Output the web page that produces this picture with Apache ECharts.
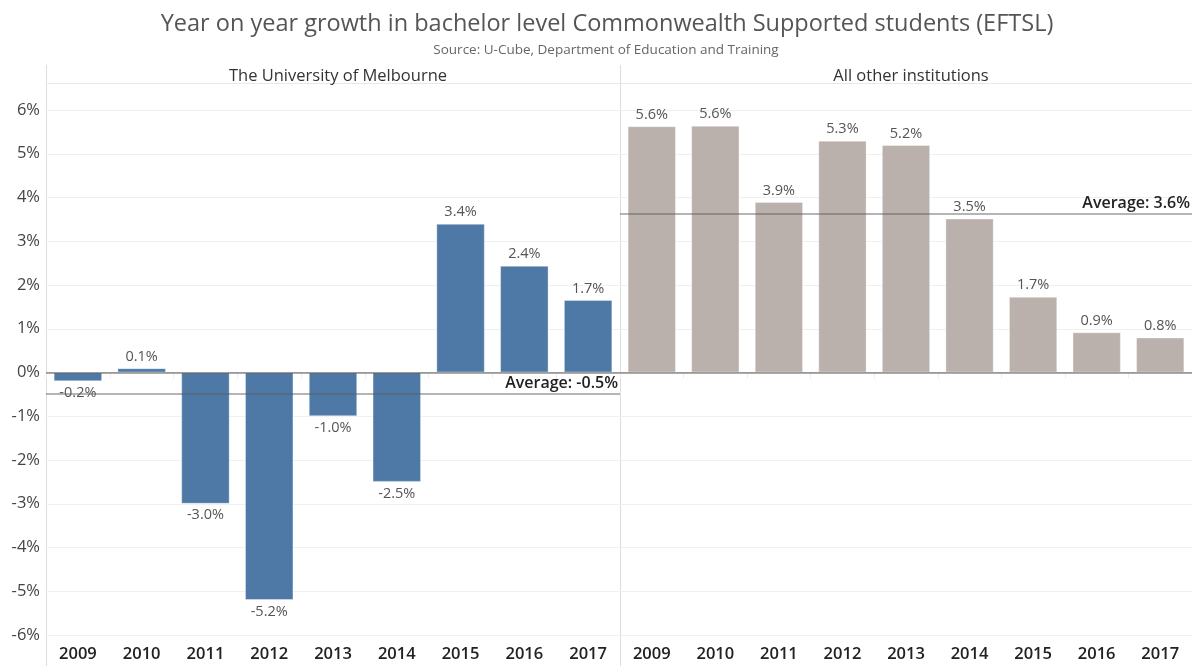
<!DOCTYPE html>
<html>
<head>
<meta charset="utf-8">
<script src="https://cdn.jsdelivr.net/npm/echarts@6/dist/echarts.min.js"></script>
<style>
html,body{margin:0;padding:0;background:#fff;}
#chart{width:1192px;height:666px;}
</style>
</head>
<body>
<div id="chart"></div>
<script>
const years = ['2009','2010','2011','2012','2013','2014','2015','2016','2017'];
const melbourneGrowth = [-0.2, 0.1, -3.0, -5.2, -1.0, -2.5, 3.4, 2.44, 1.66];
const otherGrowth = [5.63, 5.64, 3.9, 5.3, 5.2, 3.52, 1.73, 0.92, 0.8];
const panelTitles = ['The University of Melbourne', 'All other institutions'];
const yTicks = [-6, 6, 1];

const avg = a => a.reduce((s, v) => s + v, 0) / a.length;
const FONT = '"Open Sans", "Noto Sans", sans-serif';
const pct = v => v.toFixed(1) + '%';

function barData(vals) {
  return vals.map(v => ({
    value: v,
    label: { position: v < 0 ? 'bottom' : 'top' }
  }));
}

function series(idx, vals, color) {
  const a = avg(vals);
  return {
    type: 'bar',
    xAxisIndex: idx, yAxisIndex: idx,
    data: barData(vals),
    barWidth: '76%',
    itemStyle: { color: color, borderColor: 'rgba(255,255,255,0.35)', borderWidth: 1 },
    label: {
      show: true, color: '#555', fontSize: 14.5, fontFamily: FONT, distance: 4,
      formatter: p => pct(p.value)
    },
    markLine: {
      silent: true, symbol: 'none', animation: false,
      data: [
        { yAxis: 0, lineStyle: { color: 'rgba(70,70,70,0.6)', width: 1.5, type: 'solid' }, label: { show: false } },
        { yAxis: a, lineStyle: { color: 'rgba(90,90,90,0.45)', width: 2, type: 'solid' },
          label: { show: true, position: 'insideEndTop', formatter: 'Average: ' + pct(a),
                   color: '#222', fontSize: 16, fontFamily: FONT, fontWeight: 600, distance: 2 } }
      ]
    },
    z: 2
  };
}

function xAxis(idx) {
  return {
    type: 'category', gridIndex: idx, data: years, offset: 6,
    axisLine: { show: true, lineStyle: { color: '#ddd', width: 1 } },
    axisTick: { show: true, length: 6, lineStyle: { color: '#eee' } },
    axisLabel: { color: '#222', fontSize: 16.5, fontWeight: 600, fontFamily: FONT, margin: 5 }
  };
}

function yAxis(idx) {
  return {
    type: 'value', gridIndex: idx, min: yTicks[0], max: yTicks[1], interval: yTicks[2],
    axisLine: { show: false }, axisTick: { show: false },
    splitLine: { show: true, lineStyle: { color: '#f0f0f0' } },
    axisLabel: { show: idx === 0, color: '#444', fontSize: 16.5, fontFamily: FONT, margin: 6,
                 formatter: v => v + '%' }
  };
}

const chart = echarts.init(document.getElementById('chart'), null, { renderer: 'canvas' });
chart.setOption({
  animation: false,
  backgroundColor: '#fff',
  title: [
    { text: 'Year on year growth in bachelor level Commonwealth Supported students (EFTSL)',
      left: 602, textAlign: 'center', top: 7,
      textStyle: { color: '#555', fontSize: 23.5, fontWeight: 'normal', fontFamily: FONT } },
    { text: 'Source: U-Cube, Department of Education and Training',
      left: 601, textAlign: 'center', top: 38,
      textStyle: { color: '#666', fontSize: 13.5, fontWeight: 'normal', fontFamily: FONT } },
    { text: panelTitles[0], left: 333, textAlign: 'center', top: 63,
      textStyle: { color: '#333', fontSize: 16.5, fontWeight: 'normal', fontFamily: FONT } },
    { text: panelTitles[1], left: 906, textAlign: 'center', top: 63,
      textStyle: { color: '#333', fontSize: 16.5, fontWeight: 'normal', fontFamily: FONT } }
  ],
  grid: [
    { left: 46, width: 574, top: 110, bottom: 31 },
    { left: 620, width: 572, top: 110, bottom: 31 }
  ],
  xAxis: [xAxis(0), xAxis(1)],
  yAxis: [yAxis(0), yAxis(1)],
  series: [
    series(0, melbourneGrowth, '#4E79A7'),
    series(1, otherGrowth, '#BAB0AC')
  ],
  graphic: [
    { type: 'line', shape: { x1: 46.5, y1: 65, x2: 46.5, y2: 666 }, style: { stroke: '#ddd', lineWidth: 1 }, z: 0 },
    { type: 'line', shape: { x1: 620.5, y1: 65, x2: 620.5, y2: 666 }, style: { stroke: '#ddd', lineWidth: 1 }, z: 0 },
    { type: 'line', shape: { x1: 46, y1: 83.5, x2: 1192, y2: 83.5 }, style: { stroke: '#e8e8e8', lineWidth: 1 }, z: 0 }
  ]
});
</script>
</body>
</html>
